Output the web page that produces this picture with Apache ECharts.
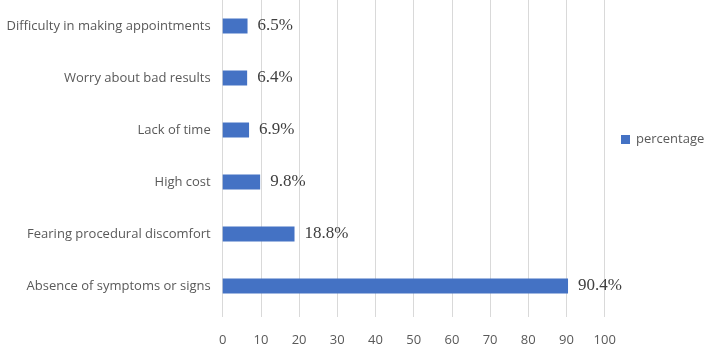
<!DOCTYPE html>
<html>
<head>
<meta charset="utf-8">
<script src="https://cdn.jsdelivr.net/npm/echarts@6/dist/echarts.min.js"></script>
<style>html,body{margin:0;padding:0;background:#fff;}#c{width:708px;height:347px;}</style>
</head>
<body>
<div id="c"></div>
<script>
const categories = ["Absence of symptoms or signs", "Fearing procedural discomfort", "High cost", "Lack of time", "Worry about bad results", "Difficulty in making appointments"];
const percentage = [90.4, 18.8, 9.8, 6.9, 6.4, 6.5];
const seriesName = "percentage";

const chart = echarts.init(document.getElementById('c'));
chart.setOption({
  animation: false,
  backgroundColor: '#ffffff',
  legend: {
    left: 616, top: 128, orient: 'vertical', padding: 5,
    itemWidth: 9, itemHeight: 9, itemGap: 6, icon: 'rect',
    textStyle: { color: '#595959', fontSize: 13, fontFamily: 'Open Sans', padding: [0, 0, 0, 1] },
    data: [seriesName]
  },
  grid: { left: 222.7, right: 103.3, top: -6.7, height: 320.4, containLabel: false },
  xAxis: {
    type: 'value', min: 0, max: 100, interval: 10,
    axisLine: { show: false },
    axisTick: { show: true, length: 5, lineStyle: { color: '#d9d9d9' } },
    splitLine: { show: true, lineStyle: { color: '#d9d9d9', width: 1 } },
    axisLabel: { color: '#595959', fontSize: 13, fontFamily: 'Open Sans', margin: 22 }
  },
  yAxis: {
    type: 'category', data: categories,
    axisLine: { show: false }, axisTick: { show: false },
    axisLabel: { color: '#595959', fontSize: 13, fontFamily: 'Open Sans', margin: 12 }
  },
  series: [{
    name: seriesName, type: 'bar', data: percentage, barWidth: 15,
    itemStyle: { color: '#4472C4' },
    label: {
      show: true, position: 'right', distance: 10,
      formatter: p => p.value + '%',
      color: '#404040', fontSize: 17, fontFamily: 'Liberation Serif'
    }
  }]
});
</script>
</body>
</html>
